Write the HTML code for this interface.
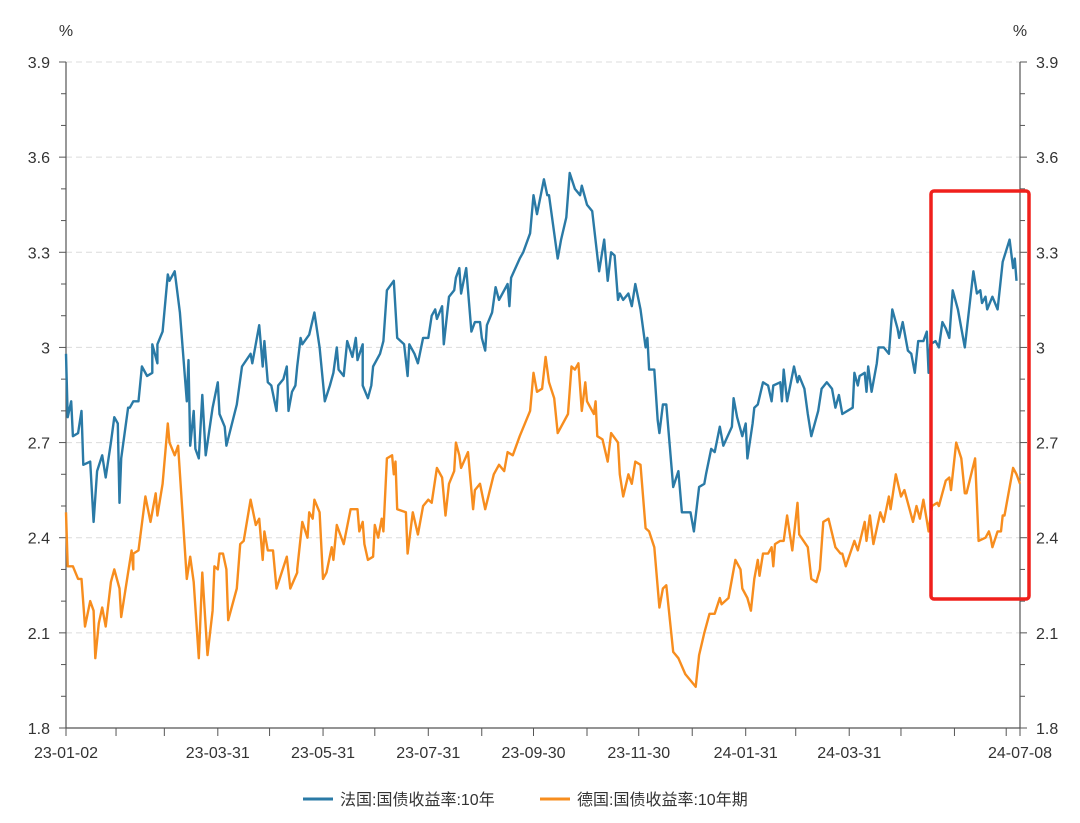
<!DOCTYPE html>
<html><head><meta charset="utf-8"><style>
body{margin:0;background:#fff;}
svg text{font-family:"Liberation Sans","Noto Sans CJK SC",sans-serif;fill:#333;}
</style></head><body>
<svg id="chart" width="1080" height="818" viewBox="0 0 1080 818" xmlns="http://www.w3.org/2000/svg">
<rect width="1080" height="818" fill="#fff"/>
<g id="grid"></g><g id="axes"></g><g id="series"></g>
<text x="66" y="36" text-anchor="middle" font-size="16">%</text>
<text x="1020" y="36" text-anchor="middle" font-size="16">%</text>
<rect x="931" y="191" width="98" height="408" rx="3" fill="none" stroke="#f0201c" stroke-width="3.5"/>
<g>
<line x1="303" y1="799" x2="333" y2="799" stroke="#2a7aa6" stroke-width="3"/>
<text x="340" y="805" font-size="16">法国:国债收益率:10年</text>
<line x1="540" y1="799" x2="570" y2="799" stroke="#f78d1e" stroke-width="3"/>
<text x="577" y="805" font-size="16">德国:国债收益率:10年期</text>
</g>
</svg>
<script>
// day offsets from 2023-01-02 and yields (%)
const frDays=[0,1,3,4,7,9,10,14,16,18,21,23,26,28,30,31,32,36,37,39,42,44,47,50,50,53,53,56,59,60,63,66,70,71,72,74,75,77,79,81,85,88,89,92,93,99,102,107,108,112,114,115,117,119,122,123,126,128,129,131,133,134,136,137,141,144,147,150,153,155,157,158,161,163,166,168,169,172,172,175,177,178,182,184,186,190,192,194,196,198,199,202,204,207,210,212,214,215,218,219,222,225,226,228,229,232,235,237,240,241,243,244,247,249,251,256,257,258,263,265,269,271,273,277,279,280,285,287,290,292,295,298,299,302,305,309,312,314,316,318,320,321,323,326,328,330,333,336,337,338,341,343,344,346,348,352,355,357,362,364,367,370,371,374,376,379,381,386,387,389,392,394,395,398,399,401,404,407,409,410,414,415,416,418,422,424,425,428,430,432,436,438,441,444,446,448,450,456,457,459,460,463,464,465,467,470,471,474,477,479,482,483,485,488,490,492,494,497,499,500,501,504,506,508,510,512,514,517,521,526,528,530,531,533,534,537,540,543,547,549,550,551];
const frVals=[2.98,2.78,2.83,2.72,2.73,2.80,2.63,2.64,2.45,2.61,2.66,2.59,2.70,2.78,2.76,2.51,2.65,2.81,2.81,2.83,2.83,2.94,2.91,2.92,3.01,2.95,3.01,3.05,3.23,3.21,3.24,3.11,2.83,2.96,2.69,2.80,2.68,2.65,2.85,2.66,2.81,2.89,2.79,2.75,2.69,2.82,2.94,2.98,2.95,3.07,2.94,3.02,2.89,2.88,2.80,2.88,2.90,2.94,2.80,2.86,2.88,2.94,3.03,3.01,3.04,3.11,3.00,2.83,2.88,2.92,3.00,2.93,2.91,3.02,2.97,3.03,2.96,3.01,2.88,2.84,2.88,2.94,2.98,3.02,3.18,3.21,3.03,3.02,3.01,2.91,3.01,2.98,2.95,3.03,3.03,3.10,3.12,3.09,3.13,3.01,3.16,3.18,3.22,3.25,3.17,3.25,3.05,3.08,3.08,3.03,2.99,3.07,3.11,3.19,3.15,3.20,3.13,3.22,3.28,3.30,3.36,3.48,3.42,3.53,3.48,3.48,3.28,3.34,3.41,3.55,3.50,3.48,3.51,3.45,3.43,3.24,3.34,3.21,3.30,3.29,3.15,3.17,3.15,3.17,3.13,3.20,3.12,3.00,3.03,2.93,2.93,2.77,2.73,2.82,2.82,2.56,2.61,2.48,2.48,2.42,2.56,2.57,2.60,2.68,2.67,2.75,2.69,2.75,2.84,2.78,2.72,2.76,2.65,2.76,2.81,2.82,2.89,2.88,2.83,2.88,2.89,2.83,2.93,2.83,2.94,2.89,2.91,2.87,2.79,2.72,2.80,2.87,2.89,2.87,2.81,2.85,2.79,2.81,2.92,2.88,2.91,2.92,2.86,2.94,2.86,2.95,3.00,3.00,2.98,3.12,3.06,3.03,3.08,2.99,2.98,2.92,3.02,3.02,3.05,2.92,3.01,3.02,3.00,3.08,3.06,3.03,3.18,3.12,3.00,3.24,3.17,3.18,3.14,3.16,3.12,3.16,3.12,3.27,3.34,3.25,3.28,3.21];
const deDays=[0,1,4,7,9,11,14,16,17,19,21,23,26,28,31,32,36,38,39,39,42,46,49,52,53,56,59,60,63,65,70,72,74,77,79,82,85,86,88,89,91,93,94,99,101,103,107,110,112,114,115,117,120,122,128,130,134,134,137,140,141,143,144,147,149,151,154,155,157,161,165,169,170,172,173,175,178,179,181,183,184,186,189,190,191,192,197,198,201,204,207,210,212,215,218,220,222,225,226,228,229,233,236,237,240,243,248,251,254,256,259,263,269,271,273,276,278,280,283,285,291,293,295,297,299,301,302,306,307,308,311,314,316,320,321,323,326,328,330,333,336,338,341,344,346,348,352,355,359,365,367,370,373,376,379,380,384,388,391,392,395,397,399,401,402,404,407,409,410,411,414,416,418,421,424,425,430,432,435,437,439,442,446,449,450,452,457,459,463,464,466,468,472,474,477,478,481,484,486,491,493,495,497,500,502,505,506,510,512,513,516,519,521,522,527,529,533,535,536,537,540,542,543,544,549,551,553];
const deVals=[2.48,2.31,2.31,2.27,2.27,2.12,2.20,2.17,2.02,2.13,2.18,2.12,2.26,2.30,2.24,2.15,2.29,2.36,2.30,2.35,2.36,2.53,2.45,2.54,2.47,2.57,2.76,2.70,2.66,2.69,2.27,2.34,2.26,2.02,2.29,2.03,2.17,2.31,2.30,2.35,2.35,2.30,2.14,2.24,2.38,2.39,2.52,2.44,2.46,2.33,2.42,2.36,2.36,2.24,2.34,2.24,2.29,2.30,2.45,2.40,2.48,2.46,2.52,2.48,2.27,2.29,2.37,2.33,2.44,2.38,2.49,2.49,2.42,2.45,2.38,2.33,2.34,2.44,2.40,2.46,2.42,2.65,2.66,2.60,2.64,2.49,2.48,2.35,2.48,2.41,2.50,2.52,2.51,2.62,2.59,2.47,2.57,2.61,2.70,2.66,2.62,2.67,2.49,2.55,2.57,2.49,2.60,2.63,2.61,2.67,2.66,2.72,2.80,2.92,2.86,2.87,2.97,2.89,2.84,2.73,2.79,2.94,2.93,2.95,2.80,2.89,2.83,2.79,2.83,2.72,2.71,2.64,2.73,2.70,2.60,2.53,2.60,2.57,2.64,2.63,2.43,2.42,2.37,2.18,2.24,2.25,2.04,2.02,1.97,1.93,2.03,2.10,2.16,2.16,2.21,2.19,2.21,2.33,2.30,2.24,2.21,2.17,2.27,2.33,2.28,2.35,2.35,2.37,2.31,2.38,2.39,2.39,2.47,2.36,2.51,2.41,2.37,2.27,2.26,2.30,2.45,2.46,2.37,2.35,2.35,2.31,2.39,2.36,2.45,2.39,2.47,2.38,2.48,2.45,2.53,2.49,2.60,2.53,2.55,2.45,2.50,2.46,2.52,2.42,2.50,2.51,2.50,2.58,2.59,2.55,2.70,2.65,2.54,2.54,2.65,2.39,2.40,2.42,2.40,2.37,2.42,2.42,2.47,2.47,2.62,2.60,2.57];
const yTicks=[1.8,2.1,2.4,2.7,3.0,3.3,3.6,3.9];
const yTickLabels=["1.8","2.1","2.4","2.7","3","3.3","3.6","3.9"];
const monthTicks=[29,57,88,118,149,179,210,241,271,302,332,363,394,423,454,484,515,545];
const xLabelDays=[0,88,149,210,271,332,394,454,553];
const xLabels=["23-01-02","23-03-31","23-05-31","23-07-31","23-09-30","23-11-30","24-01-31","24-03-31","24-07-08"];

const X0=66,X1=1020,Y0=728,Y1=62,DMAX=553,VMIN=1.8,VMAX=3.9;
const xs=d=>X0+d*(X1-X0)/DMAX;
const ys=v=>Y0-(v-VMIN)*(Y0-Y1)/(VMAX-VMIN);
const NS="http://www.w3.org/2000/svg";
function mk(tag,attrs,parent){const e=document.createElementNS(NS,tag);for(const k in attrs)e.setAttribute(k,attrs[k]);parent.appendChild(e);return e;}
const grid=document.getElementById('grid'),axes=document.getElementById('axes'),series=document.getElementById('series');

yTicks.forEach((v,i)=>{
  const y=ys(v);
  if(i>0){const g=mk('line',{x1:X0,x2:X1,y1:y,y2:y,stroke:'#dcdcdc','stroke-dasharray':'6,4'},grid);
  
  }
  const t=mk('text',{x:50,y:y+6,'text-anchor':'end','font-size':16},axes);t.textContent=yTickLabels[i];
  
  
  const t2=mk('text',{x:1036,y:y+6,'text-anchor':'start','font-size':16},axes);t2.textContent=yTickLabels[i];
  
  
});
for(let k=0;k<=21;k++){
  const v=VMIN+k*0.1,y=ys(v),len=(k%3===0)?7:5;
  mk('line',{x1:X0-len,x2:X0,y1:y,y2:y,stroke:'#555'},axes);
  mk('line',{x1:X1,x2:X1+len,y1:y,y2:y,stroke:'#555'},axes);
}
const la=mk('line',{x1:X0,x2:X0,y1:Y1,y2:Y0,stroke:'#555','stroke-width':1.2},axes);


const ra=mk('line',{x1:X1,x2:X1,y1:Y1,y2:Y0,stroke:'#555','stroke-width':1.2},axes);


const xa=mk('line',{x1:X0,x2:X1,y1:Y0,y2:Y0,stroke:'#555','stroke-width':1.2},axes);


[0].concat(monthTicks,[DMAX]).forEach(d=>{mk('line',{x1:xs(d),x2:xs(d),y1:Y0,y2:Y0+8,stroke:'#555'},axes);});
xLabelDays.forEach((d,i)=>{
  const t=mk('text',{x:xs(d),y:758,'text-anchor':'middle','font-size':16},axes);t.textContent=xLabels[i];
  
  
});
function line(days,vals,color,name){
  const d=days.map((dd,i)=>(i?'L':'M')+xs(dd).toFixed(1)+','+ys(vals[i]).toFixed(1)).join('');
  const p=mk('path',{d:d,fill:'none',stroke:color,'stroke-width':2.4,'stroke-linejoin':'round'},series);
  
  
}
line(frDays,frVals,'#2a7aa6','france-10y-line');
line(deDays,deVals,'#f78d1e','germany-10y-line');
</script>
</body></html>
